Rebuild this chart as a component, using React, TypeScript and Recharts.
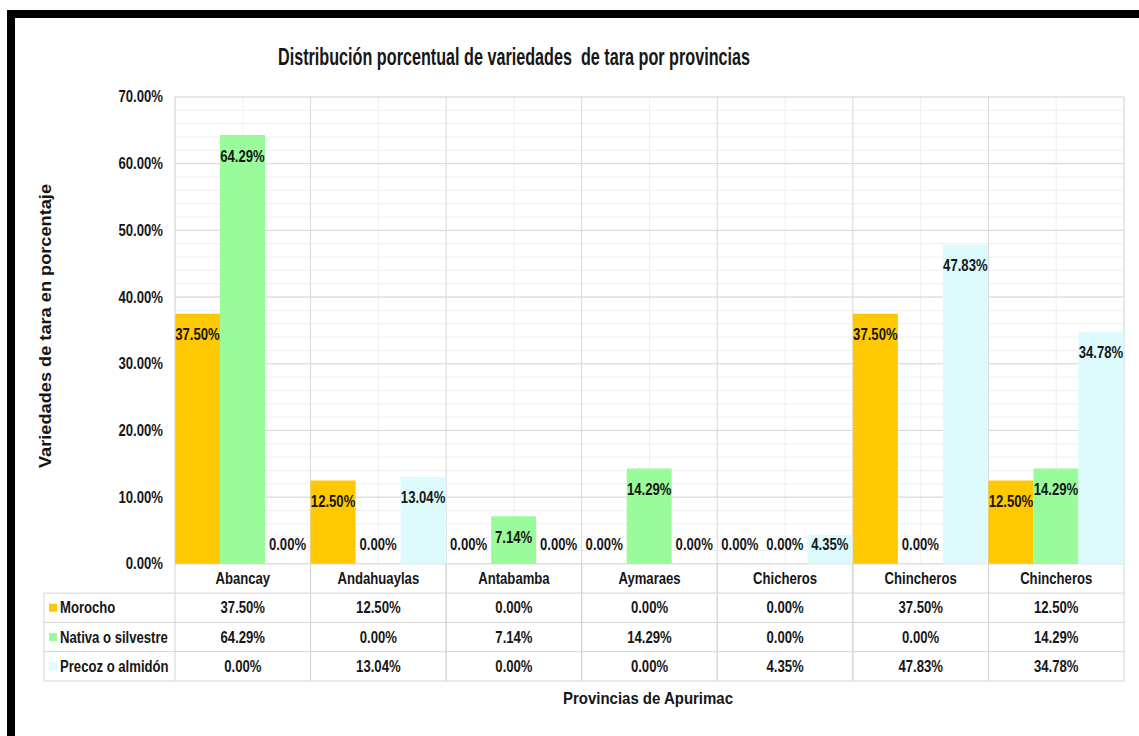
import React from 'react';
import { BarChart, Bar, XAxis, YAxis, CartesianGrid, LabelList } from 'recharts';

const CATEGORIES = ['Abancay', 'Andahuaylas', 'Antabamba', 'Aymaraes', 'Chicheros', 'Chincheros', 'Chincheros'];
const MOROCHO = [37.5, 12.5, 0, 0, 0, 37.5, 12.5];
const NATIVA = [64.29, 0, 7.14, 14.29, 0, 0, 14.29];
const PRECOZ = [0, 13.04, 0, 0, 4.35, 47.83, 34.78];
const SERIES_NAMES = ['Morocho', 'Nativa o silvestre', 'Precoz o almidón'];
const SERIES_KEYS = ['morocho', 'nativa', 'precoz'];
const SERIES_VALUES = [MOROCHO, NATIVA, PRECOZ];
const SERIES_COLORS = ['#FFC800', '#99FB99', '#DDFBFD'];
const Y_TICKS = [0, 10, 20, 30, 40, 50, 60, 70];
const Y_MINOR_TICKS = [0, 2, 4, 6, 8, 10, 12, 14, 16, 18, 20, 22, 24, 26, 28, 30, 32, 34, 36, 38, 40, 42, 44, 46, 48, 50, 52, 54, 56, 58, 60, 62, 64, 66, 68, 70];
const TITLE = 'Distribución porcentual de variedades  de tara por provincias';
const X_TITLE = 'Provincias de Apurimac';
const Y_TITLE = 'Variedades de tara en porcentaje';

const data = CATEGORIES.map((name, i) => ({
  name,
  morocho: MOROCHO[i],
  nativa: NATIVA[i],
  precoz: PRECOZ[i],
}));

const W = 1139;
const H = 736;
const M_TOP = 97;
const M_RIGHT = 15;
const Y_AXIS_W = 175;
const ROW_H = 29.3;
const X_AXIS_H = ROW_H * 4;
const M_BOTTOM = 55;
const PLOT_W = W - Y_AXIS_W - M_RIGHT;
const COL_W = PLOT_W / CATEGORIES.length;
const LEGEND_LEFT = 44;

const FONT = "'Liberation Sans', Arial, sans-serif";
const SX = 0.82;
const TEXT = '#161616';
const LINE = '#d4d4d4';

const fmt = (v: number) => `${Number(v).toFixed(2)}%`;

const NText = (props: any) => {
  const { x, y, children, size = 16, anchor = 'middle', weight = 'bold', fill = TEXT } = props;
  return (
    <text
      transform={`translate(${x},${y}) scale(${SX},1)`}
      x={0}
      y={0}
      textAnchor={anchor}
      dominantBaseline="central"
      fontFamily={FONT}
      fontSize={size}
      fontWeight={weight}
      fill={fill}
      style={{ whiteSpace: 'pre' }}
    >
      {children}
    </text>
  );
};

const renderBarLabel = (props: any) => {
  const { x, y, width, height, value } = props;
  const top = Number(y);
  const bottom = top + Number(height);
  const cy = Math.min(top + 21, bottom - 19);
  return <NText x={Number(x) + Number(width) / 2} y={cy}>{fmt(value)}</NText>;
};

const YTick = (props: any) => {
  const { x, y, payload } = props;
  return <NText x={x} y={y} anchor="end">{fmt(payload.value)}</NText>;
};

const TableTick = (props: any) => {
  const { x, y, payload } = props;
  const i = payload.index;
  const left = x - COL_W / 2;
  const right = x + COL_W / 2;
  const rows = [];
  rows.push(
    <NText key="cat" x={x} y={y + ROW_H / 2}>
      {CATEGORIES[i]}
    </NText>
  );
  SERIES_VALUES.forEach((vals, r) => {
    rows.push(
      <NText key={`v${r}`} x={x} y={y + ROW_H * (r + 1) + ROW_H / 2}>
        {fmt(vals[i])}
      </NText>
    );
  });
  const lines = [];
  lines.push(<line key="l" x1={left} x2={left} y1={y} y2={y + ROW_H * 4} stroke={LINE} />);
  lines.push(<line key="r" x1={right} x2={right} y1={y} y2={y + ROW_H * 4} stroke={LINE} />);
  for (let r = 1; r <= 4; r++) {
    lines.push(<line key={`h${r}`} x1={left} x2={right} y1={y + ROW_H * r} y2={y + ROW_H * r} stroke={LINE} />);
  }
  let legend = null;
  if (i === 0) {
    const lx = LEGEND_LEFT;
    legend = (
      <g>
        <line x1={lx} x2={left} y1={y + ROW_H} y2={y + ROW_H} stroke={LINE} />
        {SERIES_NAMES.map((n, r) => (
          <g key={n}>
            <line x1={lx} x2={left} y1={y + ROW_H * (r + 2)} y2={y + ROW_H * (r + 2)} stroke={LINE} />
            <rect x={lx + 5} y={y + ROW_H * (r + 1) + ROW_H / 2 - 4} width={8} height={8} fill={SERIES_COLORS[r]} />
            <NText x={lx + 16} y={y + ROW_H * (r + 1) + ROW_H / 2} anchor="start">
              {n}
            </NText>
          </g>
        ))}
        <line x1={lx} x2={lx} y1={y + ROW_H} y2={y + ROW_H * 4} stroke={LINE} />
      </g>
    );
  }
  return (
    <g>
      {lines}
      {legend}
      {rows}
    </g>
  );
};

export default function App() {
  return (
    <div style={{ position: 'absolute', left: 0, top: 0, width: W, height: H, background: '#fff', overflow: 'hidden' }}>
      <BarChart
        width={W}
        height={H}
        data={data}
        margin={{ top: M_TOP, right: M_RIGHT, left: 0, bottom: M_BOTTOM }}
        barCategoryGap={0}
        barGap={0}
      >
        <CartesianGrid
          stroke="#efefef"
          horizontalCoordinatesGenerator={(p: any) => {
            const s = p.yAxis && p.yAxis.scale;
            return Y_MINOR_TICKS.map((v) => (typeof s === 'function' ? s(v) : p.offset.top + p.offset.height * (1 - v / 70)));
          }}
        />
        <CartesianGrid
          stroke="#d8d8d8"
          verticalCoordinatesGenerator={(p: any) =>
            CATEGORIES.map((_, i) => p.offset.left + (i + 1) * (p.offset.width / CATEGORIES.length))
          }
        />
        <XAxis
          dataKey="name"
          height={X_AXIS_H}
          tickLine={false}
          axisLine={false}
          tickSize={0}
          tickMargin={0}
          interval={0}
          tick={<TableTick />}
        />
        <YAxis
          width={Y_AXIS_W}
          domain={[0, 70]}
          ticks={Y_TICKS}
          tickLine={false}
          axisLine={{ stroke: LINE }}
          tickSize={0}
          tickMargin={12}
          tick={<YTick />}
        />
        {SERIES_KEYS.map((k, s) => (
          <Bar key={k} dataKey={k} name={SERIES_NAMES[s]} fill={SERIES_COLORS[s]} minPointSize={0.01} isAnimationActive={false}>
            <LabelList dataKey={k} content={renderBarLabel} />
          </Bar>
        ))}
        <g transform="rotate(-90 45 326)">
          <text
            x={45}
            y={326}
            textAnchor="middle"
            dominantBaseline="central"
            fontFamily={FONT}
            fontSize={17}
            fontWeight="bold"
            fill={TEXT}
            textLength={284}
            lengthAdjust="spacingAndGlyphs"
          >
            {Y_TITLE}
          </text>
        </g>
        <text
          x={648}
          y={698}
          textAnchor="middle"
          dominantBaseline="central"
          fontFamily={FONT}
          fontSize={17}
          fontWeight="bold"
          fill={TEXT}
          textLength={170}
          lengthAdjust="spacingAndGlyphs"
        >
          {X_TITLE}
        </text>
        <text
          x={514}
          y={56}
          textAnchor="middle"
          dominantBaseline="central"
          fontFamily={FONT}
          fontSize={24}
          fontWeight="bold"
          fill={TEXT}
          textLength={472}
          lengthAdjust="spacingAndGlyphs"
          style={{ whiteSpace: 'pre' }}
        >
          {TITLE}
        </text>
      </BarChart>
      <div
        style={{
          position: 'absolute',
          left: 7,
          top: 10,
          width: W,
          height: H - 11,
          borderTop: '8px solid #000',
          borderLeft: '8px solid #000',
          borderBottom: '1px solid #d0d0d0',
          pointerEvents: 'none',
        }}
      />
    </div>
  );
}
